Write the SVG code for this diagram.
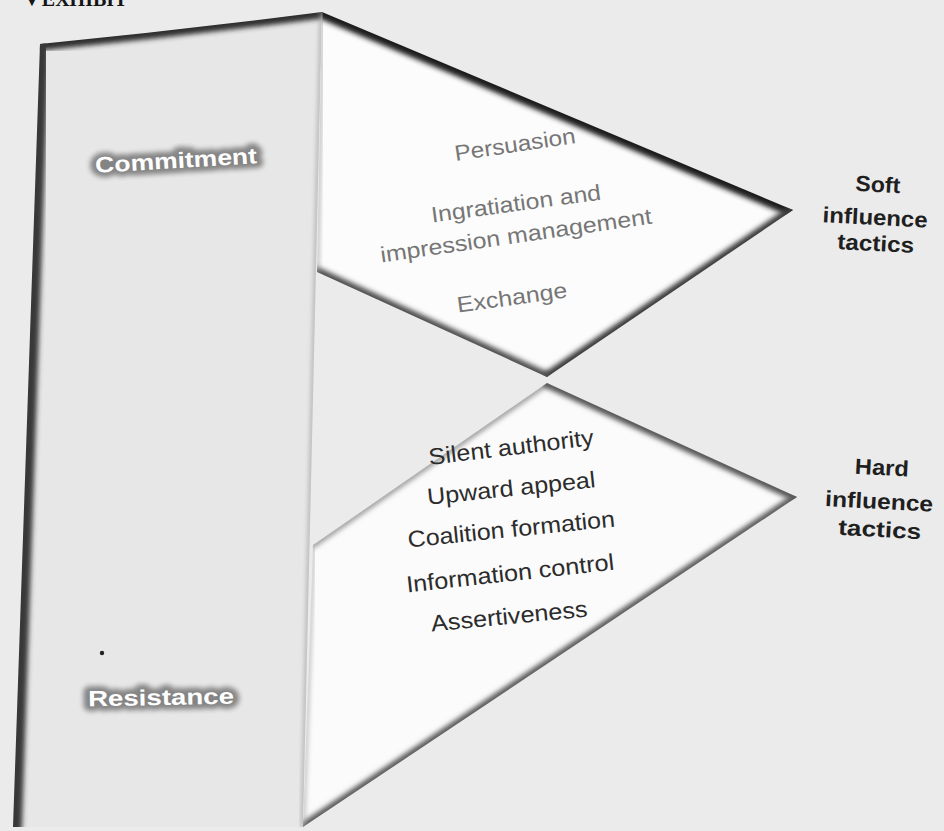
<svg xmlns="http://www.w3.org/2000/svg" width="944" height="831" viewBox="0 0 944 831">
  <style>
    .soft-item { font-family: "Liberation Sans", Arial, sans-serif; font-size: 22px; fill: #767676; text-anchor: middle; }
    .hard-item { font-family: "Liberation Sans", Arial, sans-serif; font-size: 23px; fill: #2c2c2c; text-anchor: middle; }
    .side-label { font-family: "Liberation Sans", Arial, sans-serif; font-size: 22px; font-weight: bold; fill: #1f1f1f; text-anchor: middle; }
    .scale-label { font-family: "Liberation Sans", Arial, sans-serif; font-size: 22px; font-weight: bold; text-anchor: middle; }
    .halo { fill: #7a7a7a; stroke: #7a7a7a; stroke-width: 10; stroke-linejoin: round; filter: url(#soften); opacity: 0.9; }
    .white { fill: #ffffff; }
    .shade { fill: none; stroke-linecap: round; filter: url(#soften); }
  </style>
  <defs>
    <filter id="soften" x="-20%" y="-20%" width="140%" height="140%">
      <feGaussianBlur stdDeviation="2.6"/>
    </filter>
    <clipPath id="clipBox">
      <path d="M40,44 Q180,30 322,12 L303,827 L13,827 Z"/>
    </clipPath>
    <clipPath id="clipSoft">
      <polygon points="322,12 793,210 547,377 317,272"/>
    </clipPath>
    <clipPath id="clipHard">
      <polygon points="313,545 547,383 797,497 303,827"/>
    </clipPath>
  </defs>

  <!-- page -->
  <rect x="0" y="0" width="944" height="831" fill="#ebebeb"/>

  <!-- running head, cut by the top edge -->
  <g id="header">
    <text x="22" y="6" font-family="Liberation Serif, DejaVu Serif, serif" font-size="20" font-weight="bold" fill="#151515">▼EXHIBIT</text>
  </g>

  <!-- outcome scale column -->
  <g id="outcome-scale">
    <path d="M40,44 Q180,30 322,12 L303,827 L13,827 Z" fill="#e7e7e7"/>
    <g clip-path="url(#clipBox)">
      <path class="shade" d="M40,44 Q180,30 322,12" stroke="#2e2e2e" stroke-width="13"/>
      <path class="shade" d="M40,44 L13,827" stroke="#383838" stroke-width="18"/>
      <path class="shade" d="M13,827 L303,827" stroke="#404040" stroke-width="14"/>
      <path class="shade" d="M322,12 L303,827" stroke="#9a9a9a" stroke-width="3"/>
    </g>
    <circle cx="102" cy="653" r="2.2" fill="#222"/>
    <g id="commitment" transform="rotate(-3.4 176 160)">
      <text class="scale-label halo" x="176" y="168" textLength="162" lengthAdjust="spacingAndGlyphs">Commitment</text>
      <text class="scale-label white" x="176" y="168" textLength="162" lengthAdjust="spacingAndGlyphs">Commitment</text>
    </g>
    <g id="resistance" transform="rotate(-1 161 697)">
      <text class="scale-label halo" x="161" y="705" textLength="146" lengthAdjust="spacingAndGlyphs">Resistance</text>
      <text class="scale-label white" x="161" y="705" textLength="146" lengthAdjust="spacingAndGlyphs">Resistance</text>
    </g>
  </g>

  <!-- soft influence tactics wedge -->
  <g id="soft-tactics">
    <polygon points="322,12 793,210 547,377 317,272" fill="#fcfcfc"/>
    <g clip-path="url(#clipSoft)">
      <line class="shade" x1="322" y1="12" x2="793" y2="210" stroke="#1e1e1e" stroke-width="14"/>
      <line class="shade" x1="793" y1="210" x2="547" y2="377" stroke="#3a3a3a" stroke-width="10"/>
      <line class="shade" x1="547" y1="377" x2="317" y2="272" stroke="#505050" stroke-width="10"/>
      <line class="shade" x1="322" y1="12" x2="317" y2="272" stroke="#a0a0a0" stroke-width="3"/>
    </g>
    <text class="soft-item" x="516" y="152" transform="rotate(-8.5 516 152)" textLength="122" lengthAdjust="spacingAndGlyphs">Persuasion</text>
    <text class="soft-item" x="517" y="211" transform="rotate(-7.7 517 211)" textLength="171" lengthAdjust="spacingAndGlyphs">Ingratiation and</text>
    <text class="soft-item" x="517" y="243" transform="rotate(-8.2 517 243)" textLength="274" lengthAdjust="spacingAndGlyphs">impression management</text>
    <text class="soft-item" x="513" y="305" transform="rotate(-7.8 513 305)" textLength="111" lengthAdjust="spacingAndGlyphs">Exchange</text>
  </g>

  <!-- hard influence tactics wedge -->
  <g id="hard-tactics">
    <polygon points="313,545 547,383 797,497 303,827" fill="#fbfbfb"/>
    <g clip-path="url(#clipHard)">
      <line class="shade" x1="313" y1="545" x2="547" y2="383" stroke="#9a9a9a" stroke-width="6"/>
      <line class="shade" x1="547" y1="383" x2="797" y2="497" stroke="#555555" stroke-width="10"/>
      <line class="shade" x1="797" y1="497" x2="303" y2="827" stroke="#5a5a5a" stroke-width="9"/>
      <line class="shade" x1="313" y1="545" x2="303" y2="827" stroke="#a8a8a8" stroke-width="3"/>
    </g>
    <text class="hard-item" x="512" y="455" transform="rotate(-6.9 512 455)" textLength="166" lengthAdjust="spacingAndGlyphs">Silent authority</text>
    <text class="hard-item" x="512" y="496" transform="rotate(-6 512 496)" textLength="169" lengthAdjust="spacingAndGlyphs">Upward appeal</text>
    <text class="hard-item" x="512" y="537" transform="rotate(-5.8 512 537)" textLength="208" lengthAdjust="spacingAndGlyphs">Coalition formation</text>
    <text class="hard-item" x="511" y="581" transform="rotate(-6.3 511 581)" textLength="209" lengthAdjust="spacingAndGlyphs">Information control</text>
    <text class="hard-item" x="510" y="624" transform="rotate(-5.5 510 624)" textLength="157" lengthAdjust="spacingAndGlyphs">Assertiveness</text>
  </g>

  <!-- side labels -->
  <g id="soft-label" transform="rotate(3 876 220)">
    <text class="side-label" x="876" y="192" textLength="45" lengthAdjust="spacingAndGlyphs">Soft</text>
    <text class="side-label" x="875" y="225" textLength="105" lengthAdjust="spacingAndGlyphs">influence</text>
    <text class="side-label" x="877" y="251" textLength="77" lengthAdjust="spacingAndGlyphs">tactics</text>
  </g>
  <g id="hard-label" transform="rotate(3 880 505)">
    <text class="side-label" x="880" y="475" textLength="54" lengthAdjust="spacingAndGlyphs">Hard</text>
    <text class="side-label" x="879" y="509" textLength="108" lengthAdjust="spacingAndGlyphs">influence</text>
    <text class="side-label" x="881" y="537" textLength="83" lengthAdjust="spacingAndGlyphs">tactics</text>
  </g>
</svg>
